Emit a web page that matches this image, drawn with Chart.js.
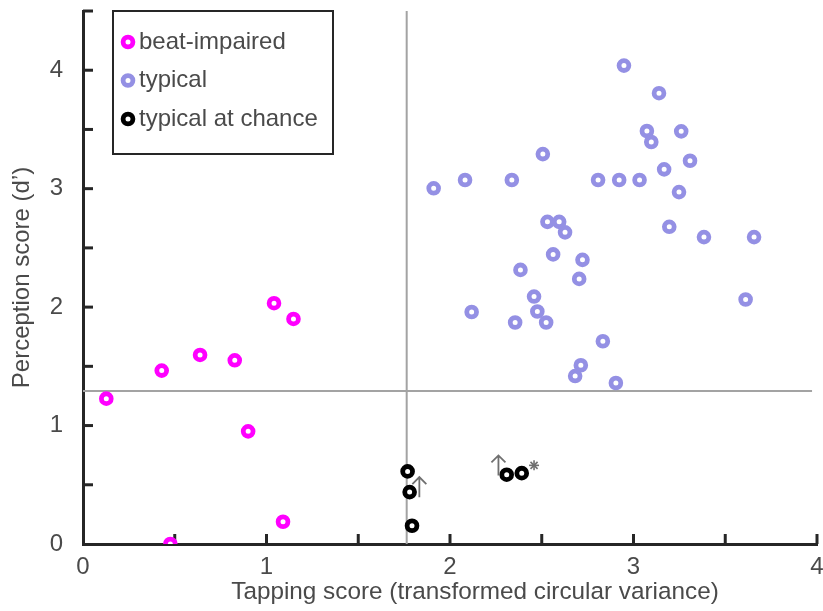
<!DOCTYPE html>
<html>
<head>
<meta charset="utf-8">
<script src="https://cdn.jsdelivr.net/npm/chart.js@4.4.1/dist/chart.umd.min.js"></script>
<style>
  body { margin: 0; background: #fff; }
  canvas { display: block; }
</style>
</head>
<body>
<canvas id="beat-chart" width="823" height="611"></canvas>
<script>
const MAGENTA = '#ff00ff'
const LAVENDER = '#9490e4'
const BLACK = '#000000'
const TEXT = '#4a4a4a'
const AXIS = '#262626'
const REF_GRAY = '#a3a3a3'
const NOTE_GRAY = '#707070'
const FONT_FAMILY = '"Liberation Sans", Arial, Helvetica, sans-serif'

// tick positions (labels only on whole numbers)
const X_TICKS = [0, 0.5, 1, 1.5, 2, 2.5, 3, 3.5, 4]
const Y_TICKS = [0, 0.5, 1, 1.5, 2, 2.5, 3, 3.5, 4, 4.5]
const X_LABELS = ['0', '1', '2', '3', '4']
const Y_LABELS = ['0', '1', '2', '3', '4']

// beat-impaired
const IMPAIRED_X = [0.127, 0.476, 0.429, 0.638, 0.827, 1.041, 1.147, 0.900, 1.090]
const IMPAIRED_Y = [1.227, 0.000, 1.464, 1.596, 1.551, 2.033, 1.900, 0.951, 0.188]

// typical
const TYPICAL_X = [2.948, 3.139, 3.073, 3.097, 3.260, 2.506, 3.308, 1.911, 2.082, 2.337, 2.807, 2.922,
    3.033, 3.167, 3.248, 2.531, 2.595, 2.627, 3.195, 3.384, 3.657, 2.562, 2.722, 2.384, 2.704, 2.458,
    2.118, 2.476, 2.355, 2.524, 3.611, 2.833, 2.713, 2.682, 2.904]
const TYPICAL_Y = [4.039, 3.806, 3.487, 3.394, 3.484, 3.292, 3.236, 3.003, 3.073, 3.073, 3.073, 3.073,
    3.073, 3.163, 2.971, 2.720, 2.720, 2.631, 2.678, 2.591, 2.591, 2.445, 2.399, 2.314, 2.238, 2.089,
    1.959, 1.963, 1.870, 1.870, 2.064, 1.712, 1.509, 1.418, 1.359]

// typical at chance
const CHANCE_X = [1.769, 1.780, 1.793, 2.309, 2.391]
const CHANCE_Y = [0.613, 0.438, 0.154, 0.585, 0.598]

// cut-off lines
const CUTOFF_X = 1.764
const CUTOFF_Y = 1.292
const CUTOFF_Y_END = 3.973

// annotations: up arrows [x, yFrom, yTo] and the asterisk [x, y]
const ARROWS = [[1.833, 0.395, 0.565], [2.264, 0.579, 0.748]]
const STARS = [[2.458, 0.664]]

const X_TITLE = 'Tapping score (transformed circular variance)'
const Y_TITLE = 'Perception score (d’)'

const PLOT_RIGHT = 817  // x axis ends here, the last label may hang over the edge

function toPoints(xs, ys) {
    return xs.map((x, i) => ({ x: x, y: ys[i] }))
}

function ring(ctx, x, y, color) {
    ctx.beginPath()
    ctx.arc(x, y, 4.9, 0, Math.PI * 2)
    ctx.fillStyle = '#fff'
    ctx.fill()
    ctx.lineWidth = 4.8
    ctx.strokeStyle = color
    ctx.stroke()
}

function pointSet(label, xs, ys, color) {
    return {
        label: label,
        data: toPoints(xs, ys),
        pointRadius: 4.9,
        pointHoverRadius: 4.9,
        pointBorderWidth: 4.8,
        pointBackgroundColor: '#fff',
        pointBorderColor: color,
        borderColor: color,
        showLine: false,
        order: 1,
    }
}

function refLine(points) {
    return {
        label: '',
        data: points,
        showLine: true,
        pointRadius: 0,
        borderColor: REF_GRAY,
        borderWidth: 2,
        order: 5,
    }
}

// no extra room for the end tick labels, the layout padding decides
function noLabelPadding(scale) {
    scale.paddingTop = 0
    scale.paddingBottom = 0
    scale.paddingLeft = 0
    scale.paddingRight = 0
}

// inward tick marks, note arrows and star
const extrasPlugin = {
    id: 'extras',
    afterLayout(chart) {
        const xs = chart.scales.x
        const area = chart.chartArea
        area.right = PLOT_RIGHT
        area.width = PLOT_RIGHT - area.left
        xs.right = PLOT_RIGHT
        xs.width = PLOT_RIGHT - xs.left
        xs.configure()
    },
    beforeDatasetsDraw(chart) {
        const ctx = chart.ctx
        const xs = chart.scales.x, ys = chart.scales.y
        const area = chart.chartArea
        ctx.save()
        ctx.strokeStyle = AXIS
        ctx.lineWidth = 3
        ctx.lineCap = 'butt'
        X_TICKS.forEach(v => {
            if (v === 0) return
            const px = xs.getPixelForValue(v)
            ctx.beginPath()
            ctx.moveTo(px, area.bottom)
            ctx.lineTo(px, area.bottom - 10)
            ctx.stroke()
        })
        Y_TICKS.forEach(v => {
            if (v === 0) return
            const py = ys.getPixelForValue(v)
            ctx.beginPath()
            ctx.moveTo(area.left, py)
            ctx.lineTo(area.left + 10, py)
            ctx.stroke()
        })
        ctx.restore()
    },
    afterDatasetsDraw(chart) {
        const ctx = chart.ctx
        const xs = chart.scales.x, ys = chart.scales.y
        ctx.save()
        ctx.strokeStyle = NOTE_GRAY
        ctx.lineWidth = 1.8
        ARROWS.forEach(a => {
            const px = xs.getPixelForValue(a[0])
            const y0 = ys.getPixelForValue(a[1])
            const y1 = ys.getPixelForValue(a[2])
            ctx.beginPath()
            ctx.moveTo(px, y0)
            ctx.lineTo(px, y1)
            ctx.moveTo(px - 7, y1 + 7)
            ctx.lineTo(px, y1)
            ctx.lineTo(px + 7, y1 + 7)
            ctx.stroke()
        })
        STARS.forEach(s => {
            const px = xs.getPixelForValue(s[0])
            const py = ys.getPixelForValue(s[1])
            ctx.lineWidth = 1.6
            for (let k = 0; k < 4; k++) {
                const ang = k * Math.PI / 4
                ctx.beginPath()
                ctx.moveTo(px - 5 * Math.cos(ang), py - 5 * Math.sin(ang))
                ctx.lineTo(px + 5 * Math.cos(ang), py + 5 * Math.sin(ang))
                ctx.stroke()
            }
        })

        // x title, sits a bit right of the axis centre in the original
        ctx.font = '24.3px ' + FONT_FAMILY
        ctx.fillStyle = TEXT
        ctx.textAlign = 'center'
        ctx.textBaseline = 'middle'
        ctx.fillText(X_TITLE, 475, 592)

        // legend box
        ctx.font = '24px ' + FONT_FAMILY
        ctx.fillStyle = '#fff'
        ctx.fillRect(113, 11, 220, 143)
        ctx.strokeStyle = AXIS
        ctx.lineWidth = 2
        ctx.strokeRect(113, 11, 220, 143)
        chart.data.datasets.filter(d => d.label).forEach((d, i) => {
            const y = 42 + i * 38.5
            ring(ctx, 128, y, d.pointBorderColor)
            ctx.fillStyle = TEXT
            ctx.textAlign = 'left'
            ctx.textBaseline = 'middle'
            ctx.fillText(d.label, 139, y)
        })
        ctx.restore()
    }
}

const tickFont = { family: FONT_FAMILY, size: 24 }

const config = {
    type: 'scatter',
    data: {
        datasets: [
            pointSet('beat-impaired', IMPAIRED_X, IMPAIRED_Y, MAGENTA),
            pointSet('typical', TYPICAL_X, TYPICAL_Y, LAVENDER),
            pointSet('typical at chance', CHANCE_X, CHANCE_Y, BLACK),
            refLine([{ x: CUTOFF_X, y: 0 }, { x: CUTOFF_X, y: 4.5 }]),
            refLine([{ x: 0, y: CUTOFF_Y }, { x: CUTOFF_Y_END, y: CUTOFF_Y }]),
        ]
    },
    options: {
        responsive: false,
        animation: false,
        events: [],
        layout: { padding: { top: 11, right: 2, left: 0, bottom: 0 } },
        scales: {
            x: {
                type: 'linear',
                min: 0,
                max: 4,
                afterFit: function (scale) {
                    scale.height = 67
                    noLabelPadding(scale)
                },
                afterBuildTicks: function (scale) {
                    scale.ticks = X_TICKS.map(v => ({ value: v }))
                },
                ticks: {
                    autoSkip: false,
                    maxRotation: 0,
                    padding: 9,
                    color: TEXT,
                    font: tickFont,
                    callback: function (value) {
                        return X_LABELS.includes(String(value)) ? String(value) : ''
                    },
                },
                grid: { display: false, drawTicks: false },
                border: { display: true, color: AXIS, width: 3 },
            },
            y: {
                type: 'linear',
                min: 0,
                max: 4.5,
                afterFit: function (scale) {
                    scale.width = 83
                    noLabelPadding(scale)
                },
                afterBuildTicks: function (scale) {
                    scale.ticks = Y_TICKS.map(v => ({ value: v }))
                },
                ticks: {
                    autoSkip: false,
                    padding: 20,
                    color: TEXT,
                    font: tickFont,
                    callback: function (value) {
                        return Y_LABELS.includes(String(value)) ? String(value) : ''
                    },
                },
                grid: { display: false, drawTicks: false },
                border: { display: true, color: AXIS, width: 3 },
                title: {
                    display: true,
                    text: Y_TITLE,
                    color: TEXT,
                    font: tickFont,
                    padding: { top: 8, bottom: 0 },
                },
            },
        },
        plugins: {
            legend: { display: false },
            tooltip: { enabled: false },
        },
    },
    plugins: [extrasPlugin],
}

new Chart(document.getElementById('beat-chart').getContext('2d'), config)
</script>
</body>
</html>
